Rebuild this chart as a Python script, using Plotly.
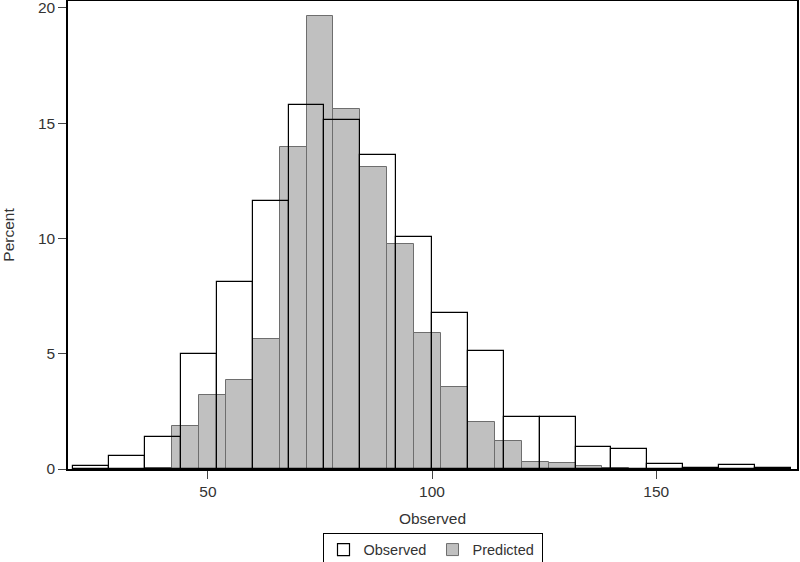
import plotly.graph_objects as go

# Observed histogram: bins of width 8 starting at 20
obs_left = [20, 28, 36, 44, 52, 60, 68, 76, 84, 92, 100, 108, 116, 124, 132, 140, 148, 156, 164, 172]
obs_pct = [0.12, 0.56, 1.40, 5.0, 8.1, 11.63, 15.79, 15.14, 13.6, 10.05, 6.75, 5.12, 2.26, 2.26,
           0.95, 0.85, 0.23, 0.05, 0.19, 0.05]
obs_width = 8

# Predicted histogram: bins of width 6 starting at 36
pred_left = [36, 42, 48, 54, 60, 66, 72, 78, 84, 90, 96, 102, 108, 114, 120, 126, 132, 138]
pred_pct = [0.04, 1.87, 3.22, 3.88, 5.63, 13.95, 19.65, 15.63, 13.12, 9.74, 5.9, 3.56, 2.03,
            1.2, 0.29, 0.25, 0.13, 0.06]
pred_width = 6

x_ticks = [50, 100, 150]
y_ticks = [0, 5, 10, 15, 20]

fig = go.Figure()
fig.add_trace(go.Bar(
    x=[l + pred_width / 2 for l in pred_left], y=pred_pct, width=pred_width,
    name="Predicted", marker=dict(color="rgb(192,192,192)", line=dict(color="rgb(110,110,110)", width=1)),
    legendrank=2,
))
fig.add_trace(go.Bar(
    x=[l + obs_width / 2 for l in obs_left], y=obs_pct, width=obs_width,
    name="Observed", marker=dict(color="rgba(255,255,255,0)", line=dict(color="black", width=1.2)),
    legendrank=1,
))

font = dict(family="Liberation Sans, Arial, sans-serif", size=15.5, color="#333")
legend_font = dict(family="Liberation Sans, Arial, sans-serif", size=14.5, color="#333")
fig.update_layout(
    width=800, height=562,
    margin=dict(l=68, r=3, t=1, b=93, autoexpand=False),
    barmode="overlay",
    bargap=0,
    plot_bgcolor="white", paper_bgcolor="white",
    font=font,
    showlegend=True,
    legend=dict(orientation="h", x=0.5, xanchor="center", y=-0.136, yanchor="top",
                bordercolor="black", borderwidth=1, font=legend_font,
                itemwidth=30, tracegroupgap=0, entrywidth=64, entrywidthmode="pixels"),
    xaxis=dict(range=[18.8, 181.4], tickvals=x_ticks, ticks="outside", ticklen=8,
               showline=True, linecolor="black", linewidth=1.5, mirror=True,
               showgrid=False, zeroline=False, automargin=False, ticklabeloverflow="allow",
               title=dict(text="Observed", font=font, standoff=14)),
    yaxis=dict(range=[0, 20.3], tickvals=y_ticks, ticks="outside", ticklen=8,
               showline=True, linecolor="black", linewidth=1.5, mirror=True,
               showgrid=False, zeroline=False, automargin=False, ticklabeloverflow="allow",
               title=dict(text="Percent", font=font, standoff=19)),
)
fig.write_html("out.html", config={"displayModeBar": False},
               post_script="document.body.style.margin='0';")
